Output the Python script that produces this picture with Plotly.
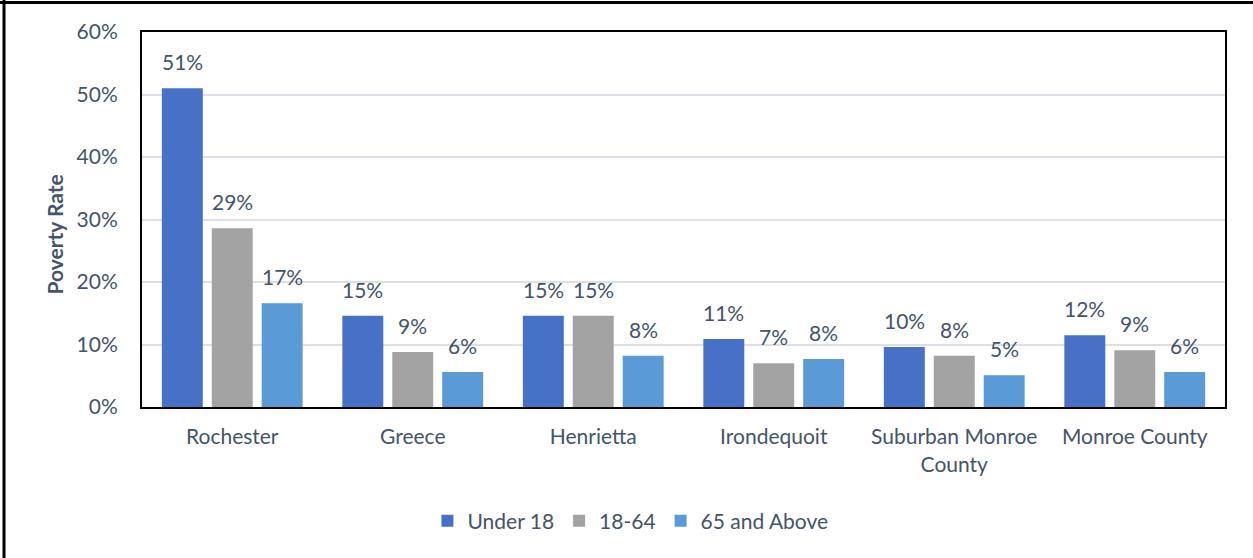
import plotly.graph_objects as go

categories = ["Rochester", "Greece", "Henrietta", "Irondequoit", "Suburban Monroe<br>County", "Monroe County"]
under_18 = [0.510, 0.146, 0.146, 0.109, 0.096, 0.115]
age_18_64 = [0.286, 0.088, 0.146, 0.070, 0.082, 0.091]
age_65_up = [0.166, 0.056, 0.082, 0.077, 0.051, 0.056]
series_names = ["Under 18", "18-64", "65 and Above"]
series_colors = ["#4671C6", "#A3A3A3", "#5A9AD6"]
yticks = [0, 0.1, 0.2, 0.3, 0.4, 0.5, 0.6]

TXT = "#44546A"
FONT = "Lato"

fig = go.Figure()
all_series = [under_18, age_18_64, age_65_up]
for name, vals, col in zip(series_names, all_series, series_colors):
    fig.add_trace(go.Bar(x=categories, y=vals, name=name, marker=dict(color=col, line=dict(width=0))))

# data labels
offsets = [-50, 0, 50]
for vals, off in zip(all_series, offsets):
    for c, v in zip(categories, vals):
        fig.add_annotation(x=c, y=v, text=f"{round(v*100):.0f}%", showarrow=False,
                           xshift=off, yshift=12, yanchor="bottom",
                           font=dict(family=FONT, size=21, color=TXT))

fig.add_annotation(x=-0.094, y=0.459, xref="paper", yref="paper", text="<b>Poverty Rate</b>",
                   textangle=-90, showarrow=False, font=dict(family=FONT, size=21, color=TXT))

# outer chart border (clipped)
fig.add_shape(type="line", xref="paper", yref="paper", x0=-0.2, x1=1.2, y0=1.0787, y1=1.0787,
              line=dict(color="black", width=3))
fig.add_shape(type="line", xref="paper", yref="paper", x0=-0.1274, x1=-0.1274, y0=-0.6, y1=1.2,
              line=dict(color="black", width=3))

fig.update_layout(
    width=1253, height=558,
    margin=dict(l=142, r=28, t=32, b=151),
    paper_bgcolor="white", plot_bgcolor="white",
    barmode="group", bargap=0.17, bargroupgap=0.18,
    font=dict(family=FONT, size=21, color=TXT),
    showlegend=True,
    legend=dict(orientation="h", x=0.451, xanchor="center", y=-0.304, yanchor="middle",
                font=dict(family=FONT, size=21, color=TXT), traceorder="normal"),
    xaxis=dict(showline=True, linecolor="black", linewidth=2, mirror=True, ticks="",
               tickfont=dict(family=FONT, size=21, color=TXT), ticklabelstandoff=10),
    yaxis=dict(range=[0, 0.6], tickvals=yticks, tickformat=".0%", showgrid=True, gridcolor="#DCDFE6",
               gridwidth=1.5, showline=True, linecolor="black", linewidth=2, mirror=True, ticks="",
               tickfont=dict(family=FONT, size=21, color=TXT), ticklabelstandoff=18, zeroline=False),
)

fig.write_html("out.html", config={"displayModeBar": False},
               post_script="document.body.style.margin='0';")
